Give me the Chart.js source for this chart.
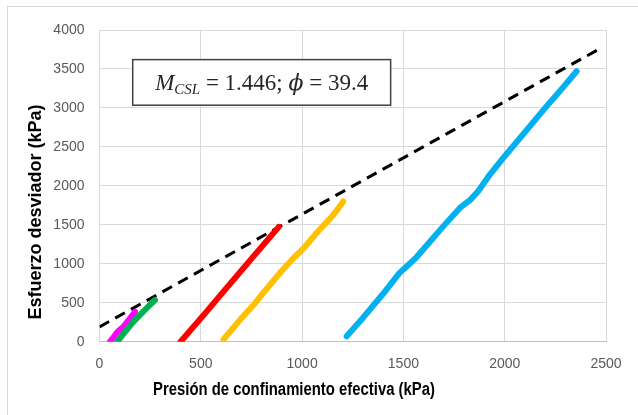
<!DOCTYPE html>
<html>
<head>
<meta charset="utf-8">
<script src="https://cdn.jsdelivr.net/npm/chart.js@4"></script>
<style>
  html, body { margin: 0; padding: 0; background: #fff; }
  #wrap { position: relative; width: 638px; height: 415px; overflow: hidden; }
  #frame { position: absolute; left: 7px; top: 6px; width: 660px; height: 430px; border: 1px solid #d9d9d9; }
  canvas { position: absolute; left: 0; top: 0; }
</style>
</head>
<body>
<div id="wrap">
  <div id="frame"></div>
  <canvas id="chart" width="638" height="415"></canvas>
</div>
<script>
// Trayectorias de esfuerzos (p', q) en kPa
const magentaX = [52, 70, 90, 118, 148, 175]
const magentaY = [0, 60, 130, 192, 290, 385]
const verdeX = [88, 110, 130, 152, 175, 200, 225, 250, 274]
const verdeY = [0, 75, 140, 210, 278, 345, 410, 475, 535]
const rojoX = [400, 520, 640, 760, 885]
const rojoY = [0, 360, 730, 1095, 1474]
const amarilloX = [612, 660, 700, 760, 800, 841, 900, 960, 1014, 1080, 1138, 1170, 1203]
const amarilloY = [30, 175, 300, 470, 600, 727, 910, 1080, 1218, 1420, 1580, 1680, 1800]
const azulX = [1220, 1300, 1400, 1480, 1520, 1560, 1620, 1700, 1780, 1830, 1870, 1920, 2000, 2100, 2200, 2290, 2355]
const azulY = [70, 305, 615, 880, 975, 1070, 1250, 1490, 1720, 1820, 1935, 2120, 2380, 2690, 3000, 3270, 3470]
// Linea de estado critico (CSL)
const cslX = [0, 2460]
const cslY = [190, 3747]
const xTicks = [0, 500, 1000, 1500, 2000, 2500]
const yTicks = [0, 500, 1000, 1500, 2000, 2500, 3000, 3500, 4000]

const toPts = (xs, ys) => xs.map((x, i) => ({ x: x, y: ys[i] }))

const serie = (xs, ys, color) => ({
  data: toPts(xs, ys),
  showLine: true,
  borderColor: color,
  backgroundColor: color,
  borderWidth: 6,
  borderCapStyle: 'round',
  borderJoinStyle: 'round',
  pointRadius: 0,
  tension: 0
})

// Titulos de ejes y cuadro de texto M_CSL
const labelsPlugin = {
  id: 'labels',
  afterDraw(chart) {
    const ctx = chart.ctx
    const xs = chart.scales.x
    const ys = chart.scales.y
    ctx.save()

    ctx.fillStyle = '#000'
    ctx.font = 'bold 18px "Liberation Sans", sans-serif'
    ctx.textAlign = 'center'
    ctx.textBaseline = 'middle'
    ctx.fillText('Presión de confinamiento efectiva (kPa)', 294, 390, 282)

    ctx.translate(36, 212)
    ctx.rotate(-Math.PI / 2)
    ctx.fillText('Esfuerzo desviador (kPa)', 0, 0)
    ctx.restore()

    // cuadro
    const left = xs.getPixelForValue(164)
    const right = xs.getPixelForValue(1437)
    const top = ys.getPixelForValue(3620)
    const bottom = ys.getPixelForValue(3035)
    ctx.save()
    ctx.fillStyle = '#fff'
    ctx.fillRect(left, top, right - left, bottom - top)
    ctx.strokeStyle = '#404040'
    ctx.lineWidth = 1.5
    ctx.strokeRect(left, top, right - left, bottom - top)

    const parts = [
      { t: 'M', f: 'italic 23px "Liberation Serif", serif', dy: 0 },
      { t: 'CSL', f: 'italic 15px "Liberation Serif", serif', dy: 4 },
      { t: ' = 1.446; ', f: '23px "Liberation Serif", serif', dy: 0 },
      { t: 'ϕ', f: 'italic 22px "DejaVu Serif", serif', dy: 0 },
      { t: ' = 39.4', f: '23px "Liberation Serif", serif', dy: 0 }
    ]
    let total = 0
    parts.forEach(p => { ctx.font = p.f; p.w = ctx.measureText(p.t).width; total += p.w })
    let x = (left + right) / 2 - total / 2
    const base = (top + bottom) / 2 + 8
    ctx.fillStyle = '#262626'
    ctx.textAlign = 'left'
    ctx.textBaseline = 'alphabetic'
    parts.forEach(p => { ctx.font = p.f; ctx.fillText(p.t, x, base + p.dy); x += p.w })
    ctx.restore()
  }
}

new Chart(document.getElementById('chart'), {
  type: 'scatter',
  data: {
    datasets: [
      serie(azulX, azulY, '#00b0f0'),
      serie(amarilloX, amarilloY, '#ffc000'),
      serie(rojoX, rojoY, '#ff0000'),
      serie(verdeX, verdeY, '#00b050'),
      serie(magentaX, magentaY, '#ff00ff'),
      {
        data: toPts(cslX, cslY),
        showLine: true,
        borderColor: '#000000',
        borderWidth: 3,
        borderDash: [11, 7],
        pointRadius: 0
      }
    ]
  },
  options: {
    responsive: false,
    animation: false,
    layout: { padding: { left: 0, top: 30, right: 32, bottom: 0 } },
    plugins: {
      legend: { display: false },
      tooltip: { enabled: false }
    },
    scales: {
      x: {
        type: 'linear',
        min: 0,
        max: 2500,
        afterBuildTicks: (s) => { s.ticks = xTicks.map(v => ({ value: v })) },
        afterFit: (s) => { s.height = 73.3 },
        grid: { color: '#d9d9d9', drawTicks: false },
        border: { color: '#bfbfbf' },
        ticks: { color: '#595959', padding: 14, font: { family: 'Liberation Sans', size: 14 }, callback: v => String(v) }
      },
      y: {
        type: 'linear',
        min: 0,
        max: 4000,
        afterBuildTicks: (s) => { s.ticks = yTicks.map(v => ({ value: v })) },
        afterFit: (s) => { s.width = 99.5 },
        grid: { color: '#d9d9d9', drawTicks: false },
        border: { color: '#d9d9d9' },
        ticks: { color: '#595959', padding: 15, font: { family: 'Liberation Sans', size: 14 }, callback: v => String(v) }
      }
    }
  },
  plugins: [labelsPlugin]
})
</script>
</body>
</html>
